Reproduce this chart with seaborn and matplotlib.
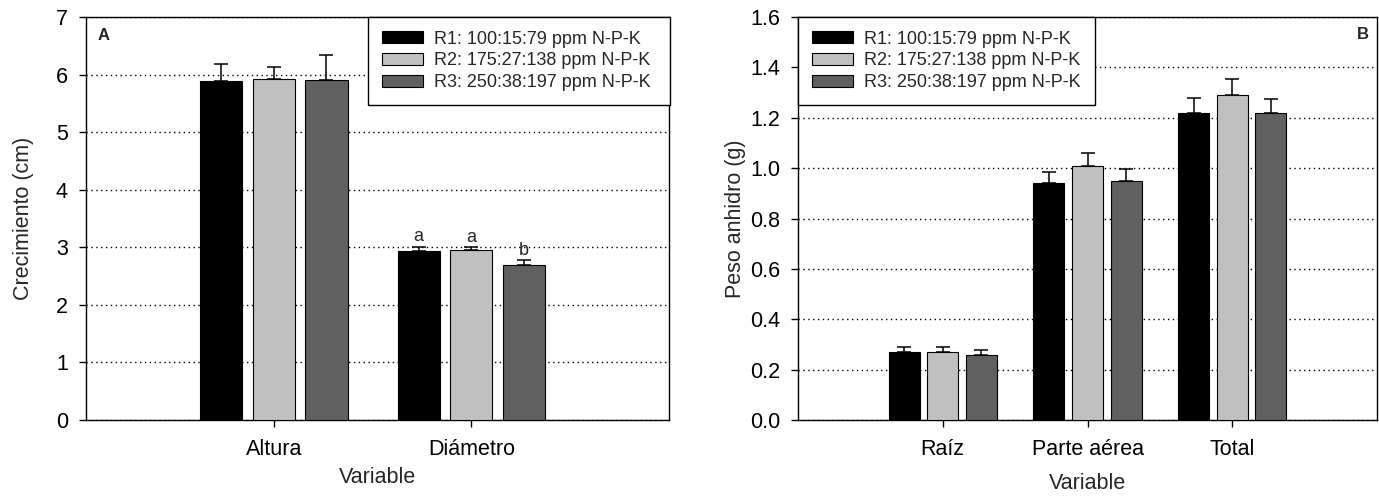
import seaborn as sns
import pandas as pd
import matplotlib.pyplot as plt
import numpy as np

treatments = ["R1: 100:15:79 ppm N-P-K", "R2: 175:27:138 ppm N-P-K", "R3: 250:38:197 ppm N-P-K"]
colors = ["#000000", "#c0c0c0", "#606060"]

# panel A: crecimiento
vars_a = ["Altura", "Diámetro"]
mean_a = {"R1": [5.89, 2.93], "R2": [5.93, 2.96], "R3": [5.91, 2.70]}
err_a = {"R1": [0.29, 0.08], "R2": [0.21, 0.04], "R3": [0.43, 0.08]}
letters_a = {"R1": ["", "a"], "R2": ["", "a"], "R3": ["", "b"]}

# panel B: peso anhidro
vars_b = ["Raíz", "Parte aérea", "Total"]
mean_b = {"R1": [0.27, 0.94, 1.22], "R2": [0.27, 1.01, 1.29], "R3": [0.26, 0.95, 1.22]}
err_b = {"R1": [0.02, 0.045, 0.06], "R2": [0.018, 0.05, 0.065], "R3": [0.017, 0.045, 0.055]}


def to_long(cats, means):
    rows = []
    for t, key in zip(treatments, ["R1", "R2", "R3"]):
        for c, v in zip(cats, means[key]):
            rows.append({"Variable": c, "Tratamiento": t, "valor": v})
    return pd.DataFrame(rows)


sns.set_style("ticks")
plt.rcParams["font.family"] = ["Liberation Sans", "DejaVu Sans"]

fig = plt.figure(figsize=(13.79, 4.98), dpi=100)
ax1 = fig.add_axes([86 / 1379, 1 - 420 / 498, 583 / 1379, 403 / 498])
ax2 = fig.add_axes([798 / 1379, 1 - 420 / 498, 579 / 1379, 403 / 498])


def draw(ax, cats, means, errs, letters=None):
    df = to_long(cats, means)
    sns.barplot(data=df, x="Variable", y="valor", hue="Tratamiento", order=cats,
                hue_order=treatments, palette=colors, edgecolor="black", linewidth=0.8,
                width=0.8, gap=0.2, errorbar=None, ax=ax, zorder=3)
    for cont, key in zip(ax.containers, ["R1", "R2", "R3"]):
        xs = [p.get_x() + p.get_width() / 2 for p in cont.patches]
        ys = means[key]
        ax.errorbar(xs, ys, yerr=[np.zeros(len(ys)), errs[key]], fmt="none",
                    ecolor="black", elinewidth=1.1, capsize=4.7, capthick=1.1, zorder=2)
        if letters:
            for x, y, e, l in zip(xs, ys, errs[key], letters[key]):
                if l:
                    ax.annotate(l, (x, y + e), xytext=(0, 1), textcoords="offset points",
                                ha="center", va="bottom", fontsize=13)
    ax.yaxis.grid(True, linestyle=(0, (1, 2.5)), color="black", linewidth=1.0)
    ax.set_axisbelow(True)
    for s in ax.spines.values():
        s.set_visible(True)
        s.set_color("black")
        s.set_linewidth(1.0)
    ax.tick_params(axis="both", direction="out", length=5, width=1, labelsize=15.5, colors="black")
    ax.tick_params(axis="y", pad=8)
    ax.tick_params(axis="x", pad=9)


def legend(ax, x0, w):
    ax.legend(loc="upper left", bbox_to_anchor=(x0, 0.0, w, 1.0), mode="expand",
              fontsize=13, frameon=True, fancybox=False, edgecolor="black", framealpha=1,
              handlelength=2.3, handleheight=0.6, handletextpad=0.6, labelspacing=0.27,
              borderpad=0.75, borderaxespad=0)


draw(ax1, vars_a, mean_a, err_a, letters_a)
ax1.set_xlim(-0.95, 2.0)
ax1.set_ylim(0, 7)
ax1.set_yticks(range(0, 8))
ax1.set_ylabel("Crecimiento (cm)", fontsize=15.5, labelpad=16)
ax1.set_xlabel("Variable", fontsize=15.5, labelpad=5)
legend(ax1, (368 - 86) / 583, (670 - 368) / 583)
ax1.annotate("A", (0, 1), xycoords="axes fraction", xytext=(8, -8), textcoords="offset points",
             fontsize=12, fontweight="bold", ha="left", va="top")

draw(ax2, vars_b, mean_b, err_b)
ax2.set_xlim(-1, 3)
ax2.set_ylim(0, 1.6)
ax2.set_yticks(np.arange(0, 1.61, 0.2))
ax2.set_yticklabels([f"{v:.1f}" for v in np.arange(0, 1.61, 0.2)])
ax2.set_ylabel("Peso anhidro (g)", fontsize=15.5, labelpad=3)
ax2.set_xlabel("Variable", fontsize=15.5, labelpad=9)
legend(ax2, 0.0, (1095 - 798) / 579)
ax2.annotate("B", (1, 1), xycoords="axes fraction", xytext=(-6, -7), textcoords="offset points",
             fontsize=12, fontweight="bold", ha="right", va="top")

fig.savefig("out.png", dpi=100)
